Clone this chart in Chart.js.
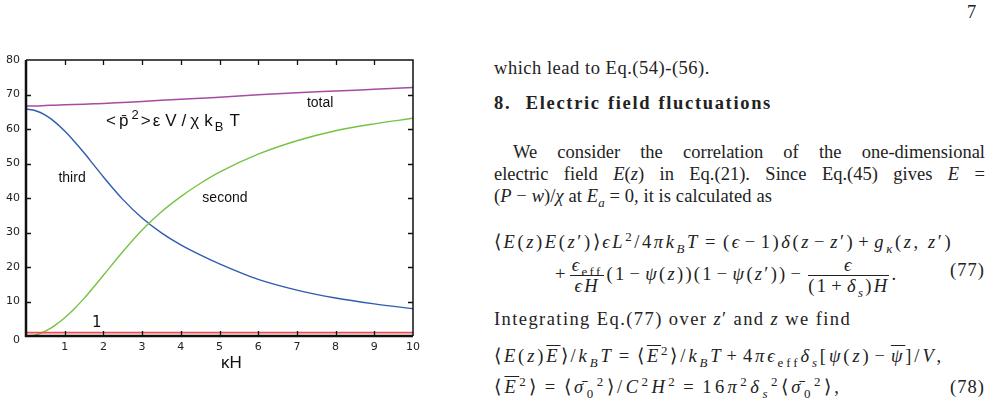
<!DOCTYPE html>
<html>
<head>
<meta charset="utf-8">
<script src="https://cdn.jsdelivr.net/npm/chart.js@4.4.0/dist/chart.umd.min.js"></script>
<style>
  html, body { margin: 0; padding: 0; background: #fff; }
  body { width: 991px; height: 412px; position: relative; overflow: hidden; }
  #wrap { position: absolute; left: 0; top: 0; width: 460px; height: 412px; }
  .pg { position: absolute; font-family: "Liberation Serif", serif; font-size: 18.5px; color: #222; white-space: nowrap; line-height: 1; }
  .j { text-align: justify; text-align-last: justify; white-space: normal; }
  i { font-style: italic; }
  .ov { text-decoration: overline; }
  .op { margin: 0 3px; }
  .rel { margin: 0 5px; }
  .fr { display: inline-block; vertical-align: middle; text-align: center; margin: 0 2px; }
  .fr > span { display: block; line-height: 1.1; white-space: nowrap; }
  .fr > .num { border-bottom: 1px solid #222; padding: 0 2px; }
  sub, sup { font-size: 70%; line-height: 0; }
</style>
</head>
<body>
<div id="wrap"><canvas id="grafico"></canvas></div>

<div class="pg" style="left:967px; top:3px;">7</div>
<div class="pg" data-w="216" style="left:494px; top:59px;">which lead to Eq.(54)-(56).</div>
<div class="pg" data-w="278" style="left:494px; top:94px; font-weight:bold; word-spacing:1px;">8.&nbsp; Electric field fluctuations</div>
<div class="pg j" style="left:513px; top:143px; width:472px;">We consider the correlation of the one-dimensional</div>
<div class="pg j" style="left:494px; top:165px; width:491px;">electric field <i>E</i>(<i>z</i>) in Eq.(21). Since Eq.(45) gives <i>E</i> =</div>
<div class="pg" data-w="278" style="left:494px; top:187px;">(<i>P</i> − <i>w</i>)/<i>χ</i> at <i>E<sub>a</sub></i> = 0, it is calculated as</div>
<div class="pg" data-w="459" style="left:494px; top:233px;">⟨<i>E</i>(<i>z</i>)<i>E</i>(<i>z</i>′)⟩<i>ϵL</i><sup>2</sup>/4<i>πk<sub>B</sub>T</i><span class="rel">=</span>(<i>ϵ</i><span class="op">−</span>1)<i>δ</i>(<i>z</i><span class="op">−</span><i>z</i>′)<span class="op">+</span><i>g<sub>κ</sub></i>(<i>z</i>,&nbsp;<i>z</i>′)</div>
<div class="pg" data-w="350" style="left:555px; top:255px;">+<span class="fr"><span class="num"><i>ϵ</i><sub>eff</sub></span><span><i>ϵH</i></span></span>(1<span class="op">−</span><i>ψ</i>(<i>z</i>))(1<span class="op">−</span><i>ψ</i>(<i>z</i>′))<span class="op">−</span><span class="fr"><span class="num"><i>ϵ</i></span><span>(1<span class="op">+</span><i>δ<sub>s</sub></i>)<i>H</i></span></span>.</div>
<div class="pg" data-w="35" style="left:950px; top:261px;">(77)</div>
<div class="pg" data-w="357" style="left:494px; top:310px;">Integrating Eq.(77) over <i>z</i>′ and <i>z</i> we find</div>
<div class="pg" data-w="450" style="left:494px; top:347px;">⟨<i>E</i>(<i>z</i>)<span class="ov"><i>E</i></span>⟩/<i>k<sub>B</sub>T</i><span class="rel">=</span>⟨<span class="ov"><i>E</i></span><sup>2</sup>⟩/<i>k<sub>B</sub>T</i><span class="op">+</span>4<i>πϵ</i><sub>eff</sub><i>δ<sub>s</sub></i>[<i>ψ</i>(<i>z</i>)<span class="op">−</span><span class="ov"><i>ψ</i></span>]/<i>V</i>,</div>
<div class="pg" data-w="355" style="left:494px; top:378px;">⟨<span class="ov"><i>E</i></span><sup>2</sup>⟩<span class="rel">=</span>⟨<i>σ̄</i><sub>0</sub><sup>2</sup>⟩/<i>C</i><sup>2</sup><i>H</i><sup>2</sup><span class="rel">=</span>16<i>π</i><sup>2</sup><i>δ</i><sub><i>s</i></sub><sup>2</sup>⟨<i>σ̄</i><sub>0</sub><sup>2</sup>⟩,</div>
<div class="pg" data-w="35" style="left:950px; top:378px;">(78)</div>

<script>
// kappa H values
const kappaH = [0, 0.25, 0.5, 0.75, 1, 1.25, 1.5, 1.75, 2, 2.5, 3, 3.5, 4, 4.5, 5, 6, 7, 8, 9, 10];

const total  = [66.7, 66.7, 66.8, 66.9, 67.0, 67.1, 67.2, 67.3, 67.4, 67.7, 68.0, 68.3, 68.6, 68.9, 69.2, 69.9, 70.5, 71.0, 71.5, 72.0];
const third  = [65.8, 65.3, 64.0, 62.0, 59.4, 56.4, 53.1, 49.6, 46.1, 39.6, 34.2, 29.9, 26.4, 23.5, 20.9, 16.4, 13.3, 11.0, 9.3, 7.9];
const second = [0.0, 0.3, 1.4, 3.1, 5.3, 7.9, 10.9, 14.2, 17.6, 24.4, 30.7, 36.0, 40.4, 44.2, 47.5, 52.7, 56.6, 59.5, 61.5, 63.1];
const first  = [1, 1, 1, 1, 1, 1, 1, 1, 1, 1, 1, 1, 1, 1, 1, 1, 1, 1, 1, 1];

const xTicks = [1, 2, 3, 4, 5, 6, 7, 8, 9, 10];
const yTicks = [0, 10, 20, 30, 40, 50, 60, 70, 80];

// curve labels placed in data coordinates
const curveLabels = [
    { text: 'total',  x: 7.6,  y: 67.4 },
    { text: 'third',  x: 1.19, y: 45.9 },
    { text: 'second', x: 5.14, y: 40.1 }
];

// stretch text lines to the widths they have on the page
function fitLines() {
    document.querySelectorAll('[data-w]').forEach(el => {
        el.style.letterSpacing = '0px';
        const target = parseFloat(el.dataset.w);
        const w = el.getBoundingClientRect().width;
        const n = el.textContent.length;
        el.style.letterSpacing = ((target - w) / n).toFixed(2) + 'px';
    });
}

function pts(ys) {
    return kappaH.map((x, i) => ({ x: x, y: ys[i] }));
}

const framePlugin = {
    id: 'frame',
    afterDraw(chart) {
        const { ctx, chartArea: a, scales } = chart;
        const xs = scales.x, ys = scales.y;
        ctx.save();
        ctx.strokeStyle = '#111';

        // inward ticks on all four sides
        ctx.lineWidth = 1.3;
        ctx.beginPath();
        xTicks.forEach(v => {
            if (v >= 10) return;
            const px = Math.round(xs.getPixelForValue(v)) + 0.5;
            ctx.moveTo(px, a.bottom); ctx.lineTo(px, a.bottom - 5);
            ctx.moveTo(px, a.top); ctx.lineTo(px, a.top + 5);
        });
        yTicks.forEach(v => {
            if (v <= 0 || v >= 80) return;
            const py = Math.round(ys.getPixelForValue(v)) + 0.5;
            ctx.moveTo(a.left, py); ctx.lineTo(a.left + 5, py);
            ctx.moveTo(a.right, py); ctx.lineTo(a.right - 5, py);
        });
        ctx.stroke();

        // frame
        ctx.lineWidth = 1.5;
        ctx.beginPath();
        ctx.moveTo(a.left, a.top); ctx.lineTo(a.right, a.top); ctx.lineTo(a.right, a.bottom);
        ctx.stroke();
        ctx.lineWidth = 2.5;
        ctx.beginPath();
        ctx.moveTo(a.left, a.top); ctx.lineTo(a.left, a.bottom); ctx.lineTo(a.right, a.bottom);
        ctx.stroke();

        // tick labels
        ctx.fillStyle = '#222';
        ctx.font = '11px "DejaVu Sans", sans-serif';
        ctx.textBaseline = 'middle';
        ctx.textAlign = 'right';
        yTicks.forEach(v => {
            ctx.fillText(String(v), a.left - 6, ys.getPixelForValue(v) + (v === 0 ? 4 : 0));
        });
        ctx.textAlign = 'center';
        xTicks.forEach(v => {
            ctx.fillText(String(v), xs.getPixelForValue(v), a.bottom + 11);
        });

        // curve labels
        ctx.fillStyle = '#111';
        ctx.font = '14px "Liberation Sans", Arial, sans-serif';
        curveLabels.forEach(l => {
            ctx.fillText(l.text, xs.getPixelForValue(l.x), ys.getPixelForValue(l.y));
        });
        ctx.font = '15px "DejaVu Sans", sans-serif';
        ctx.fillText('1', xs.getPixelForValue(1.83), ys.getPixelForValue(3.8));

        // x axis title
        ctx.font = '17px "Liberation Sans", Arial, sans-serif';
        ctx.fillText('\u03BAH', (a.left + a.right) / 2 + 12, a.bottom + 27);

        // quantity label <p̄²>εV/χk_BT
        ctx.textAlign = 'left';
        ctx.textBaseline = 'alphabetic';
        let x = xs.getPixelForValue(2.07);
        const base = ys.getPixelForValue(60.8);
        const big = '17px "Liberation Sans", Arial, sans-serif';
        const small = '13px "Liberation Sans", Arial, sans-serif';
        const parts = [
            ['<', big, 0, 3], ['p\u0304', big, 0, 3], ['2', small, -7, 2], ['>', big, 0, 2],
            ['\u03B5', big, 0, 5], ['V', big, 0, 5], ['/', big, 0, 4], ['\u03C7', big, 0, 5],
            ['k', big, 0, 2], ['B', small, 5, 6], ['T', big, 0, 0]
        ];
        parts.forEach(p => {
            ctx.font = p[1];
            ctx.fillText(p[0], x, base + p[2]);
            x += ctx.measureText(p[0]).width + p[3];
        });
        ctx.restore();
    }
};

function serie(data, color, width) {
    return {
        data: pts(data),
        borderColor: color,
        borderWidth: width,
        pointRadius: 0,
        fill: false,
        cubicInterpolationMode: 'monotone'
    };
}

const grafico = new Chart(document.getElementById('grafico'), {
    type: 'line',
    data: {
        datasets: [
            serie(first, '#f04a4f', 1.8),
            serie(second, '#76c245', 1.4),
            serie(third, '#2d5db1', 1.4),
            serie(total, '#a64ca3', 1.5)
        ]
    },
    options: {
        responsive: true,
        maintainAspectRatio: false,
        animation: false,
        events: [],
        layout: { padding: { top: 60, right: 47, left: 0, bottom: 0 } },
        plugins: {
            legend: { display: false },
            tooltip: { enabled: false }
        },
        scales: {
            x: {
                type: 'linear',
                min: 0,
                max: 10,
                afterFit: s => { s.height = 76; },
                grid: { display: false },
                border: { display: false },
                ticks: { display: false, stepSize: 1 }
            },
            y: {
                min: 0,
                max: 80,
                afterFit: s => { s.width = 26; },
                grid: { display: false },
                border: { display: false },
                ticks: { display: false, stepSize: 10 }
            }
        }
    },
    plugins: [framePlugin]
});

fitLines();
</script>
</body>
</html>
